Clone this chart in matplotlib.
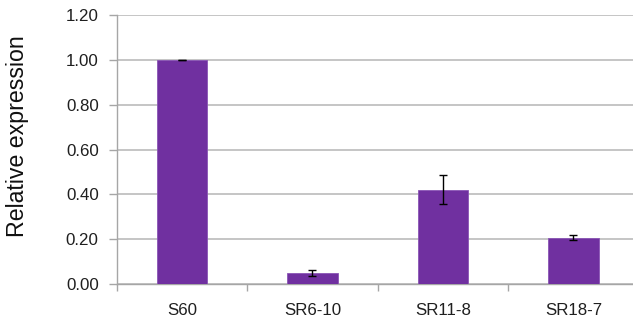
import matplotlib
matplotlib.use("Agg")
import matplotlib.pyplot as plt
import numpy as np

categories = ["S60", "SR6-10", "SR11-8", "SR18-7"]
values = [1.00, 0.047, 0.421, 0.206]
errors = [0.002, 0.014, 0.065, 0.010]
yticks = [0.00, 0.20, 0.40, 0.60, 0.80, 1.00, 1.20]

plt.rcParams['font.family'] = ['Liberation Sans', 'DejaVu Sans']

fig = plt.figure(figsize=(6.33, 3.22), dpi=100)
ax = fig.add_axes([116.7/633, 38.3/322, 522/633, 268.4/322])

x = np.arange(len(categories))
ax.bar(x, values, width=0.39, color='#7030A0', edgecolor='#8a55b5', linewidth=0.6, zorder=3)
ax.errorbar(x, values, yerr=errors, fmt='none', ecolor='black', elinewidth=1.0,
            capsize=3.2, capthick=1.0, zorder=4)

ax.set_xlim(-0.5, 3.5)
ax.set_ylim(0, 1.2)
ax.set_yticks(yticks)
ax.set_yticklabels([f"{v:.2f}" for v in yticks], fontsize=12.2, color='#1f1f1f')
ax.set_xticks(x)
ax.set_xticklabels(categories, fontsize=12.2, color='#1f1f1f')
ax.tick_params(axis='x', which='major', length=0, pad=14)
ax.set_xticks(np.arange(-0.5, 3.0, 1.0), minor=True)
ax.tick_params(axis='x', which='minor', length=5, width=1.0, color='#a6a6a6', direction='out')
ax.tick_params(axis='y', length=6, width=1.0, color='#a6a6a6', pad=7)

ax.yaxis.grid(True, color='#b5b5b5', linewidth=1.1, zorder=0)
ax.set_axisbelow(True)
for s in ['top', 'right']:
    ax.spines[s].set_visible(False)
for s in ['left', 'bottom']:
    ax.spines[s].set_color('#a6a6a6')
    ax.spines[s].set_linewidth(1.0)

ax.set_ylabel("Relative expression", fontsize=16.7, color='#111111')
ax.yaxis.set_label_coords(-(116.7-29)/522, 0.5 + (149.5 - 136.5)/268.4)

fig.savefig("out.png", dpi=100)
